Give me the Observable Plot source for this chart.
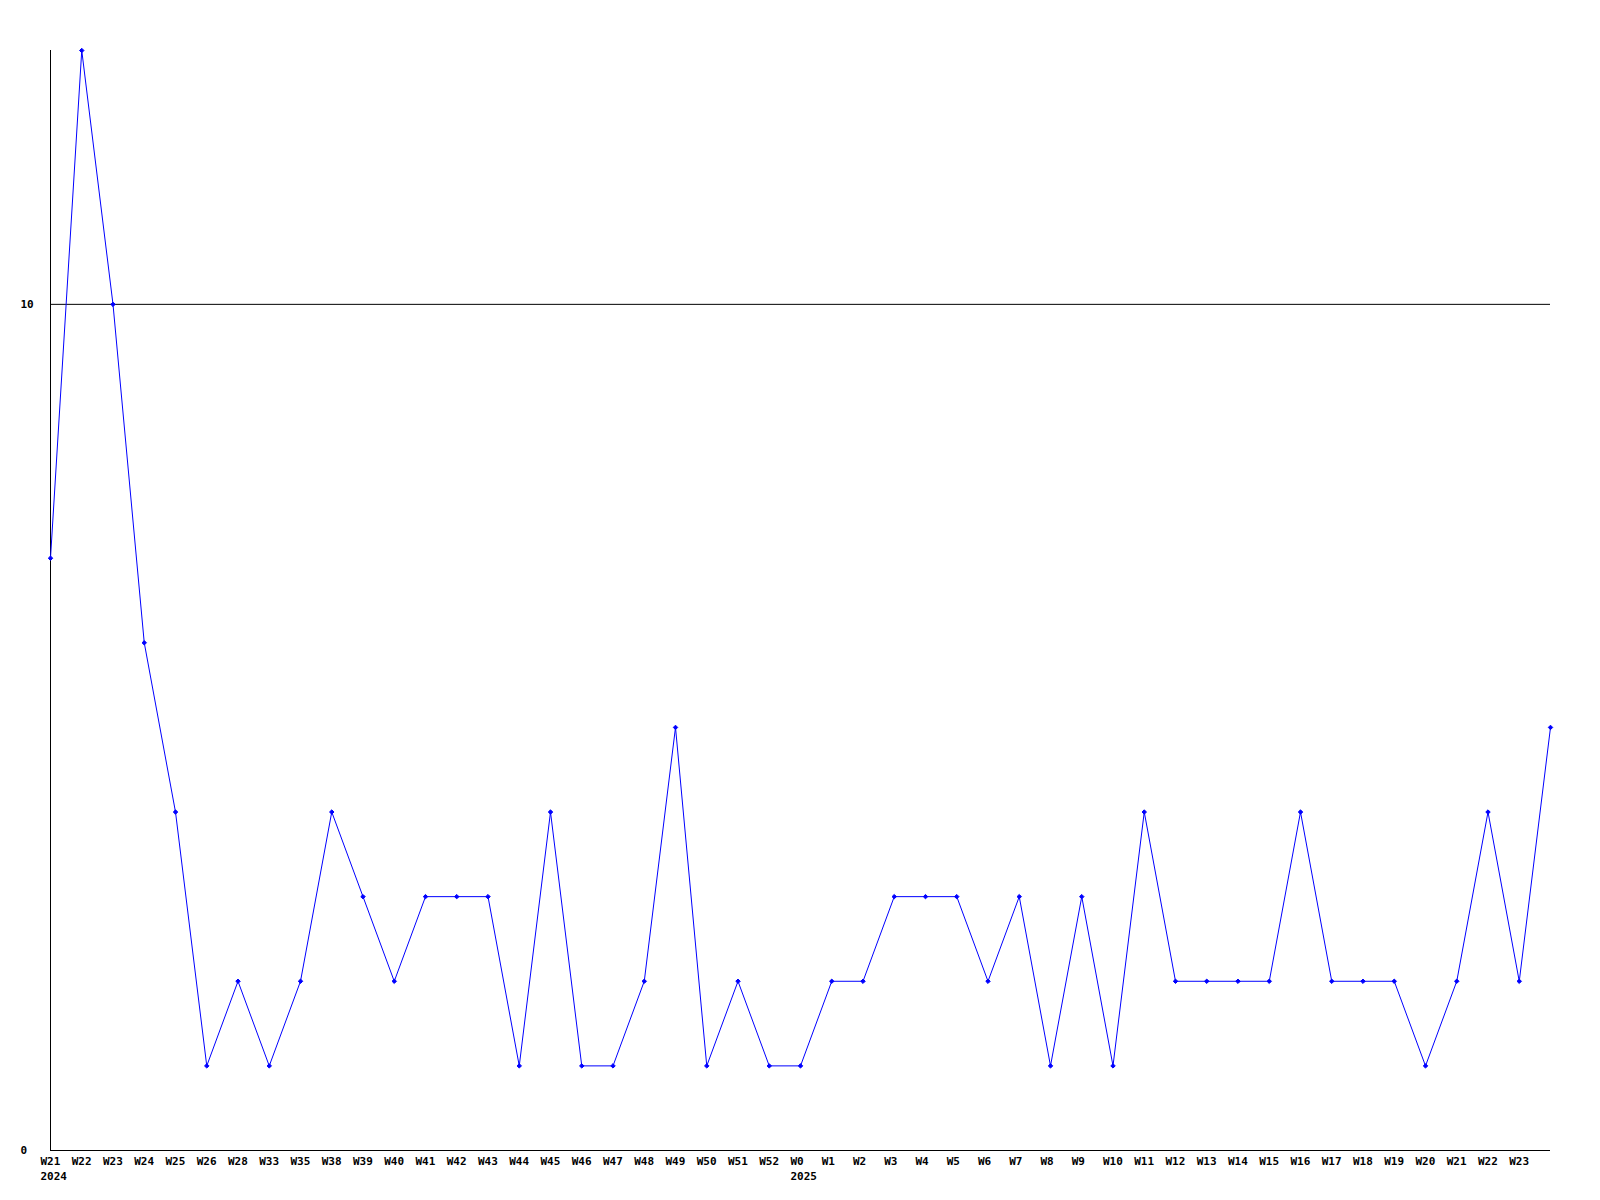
<!DOCTYPE html>
<html>
<head>
<meta charset="utf-8">
<script src="https://cdn.jsdelivr.net/npm/d3@7"></script>
<script src="https://cdn.jsdelivr.net/npm/@observablehq/plot@0.6"></script>
<style>
  html, body { margin: 0; padding: 0; background: #fff; }
  #chart svg { display: block; }
</style>
</head>
<body>
<div id="chart"></div>
<script>
const weeks = ["W21","W22","W23","W24","W25","W26","W28","W33","W35","W38","W39","W40","W41","W42","W43","W44","W45","W46","W47","W48","W49","W50","W51","W52","W0","W1","W2","W3","W4","W5","W6","W7","W8","W9","W10","W11","W12","W13","W14","W15","W16","W17","W18","W19","W20","W21","W22","W23",""];
const counts = [7,13,10,6,4,1,2,1,2,4,3,2,3,3,3,1,4,1,1,2,5,1,2,1,1,2,2,3,3,3,2,3,1,3,1,4,2,2,2,2,4,2,2,2,1,2,4,2,5];
const yearLabels = [{week: 0, year: "2024"}, {week: 24, year: "2025"}];
const yTicks = [0, 10];

const data = counts.map((v, i) => ({i, v, label: weeks[i]}));
const labelled = data.filter(d => d.label !== "");
const font = "'DejaVu Sans Mono', monospace";

const chart = Plot.plot({
  width: 1600,
  height: 1200,
  marginLeft: 50,
  marginRight: 50,
  marginTop: 50,
  marginBottom: 50,
  style: {fontFamily: font, fontSize: "11px", fontWeight: "bold", color: "#000", background: "#fff"},
  x: {domain: [0, counts.length - 1], axis: null},
  y: {domain: [0, 13], axis: null},
  marks: [
    Plot.ruleY(yTicks, {stroke: "#000", strokeWidth: 1}),
    Plot.ruleX([0], {stroke: "#000", strokeWidth: 1}),
    Plot.text(yTicks, {y: d => d, frameAnchor: "left", textAnchor: "start", dx: -30, text: d => String(d), fill: "#000", fontFamily: font, fontSize: 11, fontWeight: "bold"}),
    Plot.line(data, {x: "i", y: "v", stroke: "#0000ff", strokeWidth: 1}),
    Plot.dot(data, {x: "i", y: "v", symbol: "diamond2", r: 2, fill: "#0000ff", stroke: "#0000ff", strokeWidth: 1}),
    Plot.text(labelled, {x: "i", y: 0, text: "label", textAnchor: "start", lineAnchor: "top", dx: -10, dy: 7, fill: "#000", fontFamily: font, fontSize: 11, fontWeight: "bold"}),
    Plot.text(yearLabels, {x: "week", y: 0, text: "year", textAnchor: "start", lineAnchor: "top", dx: -10, dy: 22, fill: "#000", fontFamily: font, fontSize: 11, fontWeight: "bold"})
  ]
});
document.getElementById("chart").appendChild(chart);
</script>
</body>
</html>
